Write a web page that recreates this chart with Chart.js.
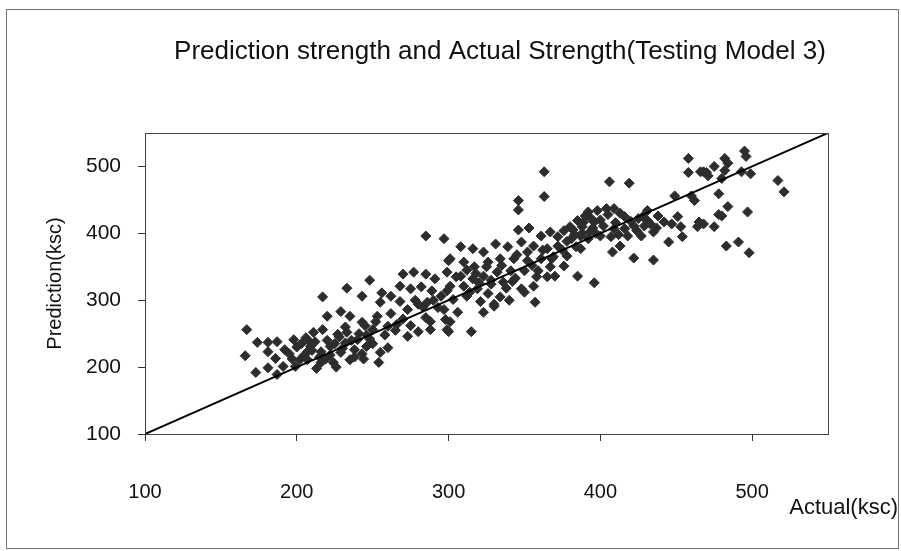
<!DOCTYPE html>
<html>
<head>
<meta charset="utf-8">
<script src="https://cdn.jsdelivr.net/npm/chart.js"></script>
<style>
  body { margin: 0; background: #fff; }
  #wrap { width: 901px; height: 551px; }
</style>
</head>
<body>
<div id="wrap"><canvas id="myChart"></canvas></div>
<script>
// values (ksc)
var actualStrength = [
  167,174,166,173,181,187,181,186,181,187,192,198,202,199,191,207,207,
  206,209,211,216,217,220,222,227,229,229,233,235,235,224,216,207,240,243,246,250,253,255,254,260,260,266,273,280,288,285,298,299,293,286,280,273,268,255,256,262,243,217,233,248,270,277,285,291,268,275,282,289,299,300,285,297,
  195,200,205,210,212,215,220,222,225,228,230,232,236,238,241,243,245,248,250,252,258,262,265,270,275,278,283,288,290,213,219,226,238,244,232,197,203,246,
  363,363,346,346,346,353,361,367,376,385,390,308,316,323,331,339,348,356,365,372,381,387,393,301,310,317,326,334,343,352,361,369,378,387,299,308,316,323,332,341,350,359,367,376,385,370,365,301,310,319,328,336,348,356,295,303,312,321,330,350,297,306,323,330,357,301,315,300,
  305,312,318,325,328,335,338,342,345,352,355,358,362,368,372,375,378,382,384,388,314,320,326,334,340,344,
  458,458,466,470,475,482,482,480,406,419,449,460,462,478,484,478,465,464,475,483,453,454,445,451,431,422,408,422,435,396,413,418,427,435,442,438,431,425,416,409,404,398,392,389,396,402,409,416,400,407,392,429,447,
  484,495,496,493,499,517,521,497,480,468,491,498,468,471,
  395,400,405,410,413,420,424,428,433,437,412,397,388,383,380,394
];
var predictedStrength = [
  256,237,217,192,237,238,223,213,199,189,226,241,211,201,201,241,223,
  244,231,252,223,256,276,231,249,283,222,252,276,211,207,207,211,241,267,231,256,276,222,207,229,261,264,246,253,256,274,271,256,289,297,294,286,298,297,311,306,306,305,318,330,339,342,339,332,321,317,320,314,314,359,396,392,
  220,230,218,225,238,215,240,218,235,245,228,260,240,226,250,220,262,242,235,268,248,280,255,272,262,300,290,268,300,198,212,200,215,212,236,212,235,248,
  492,455,449,435,405,408,396,402,404,419,426,380,377,372,384,380,387,381,377,381,392,396,402,362,357,350,357,362,362,359,362,365,366,377,342,336,332,336,342,344,344,344,350,351,336,336,335,321,321,317,324,327,317,321,306,301,306,298,294,312,286,282,282,291,297,268,253,253,
  335,345,340,350,330,352,318,328,368,372,352,335,375,362,395,375,388,405,380,410,312,326,310,305,300,333,
  512,491,492,491,500,512,494,482,477,475,456,456,449,459,440,428,417,410,410,381,410,395,387,425,434,411,372,363,360,326,381,396,396,402,417,426,419,422,425,437,437,434,432,417,417,411,407,407,396,395,392,411,414,
  505,523,515,492,489,479,462,432,426,414,387,371,492,486,
  408,420,428,416,430,418,404,425,414,408,398,400,400,398,410,422
];
var xTicks = [100, 200, 300, 400, 500];
var yTicks = [100, 200, 300, 400, 500];
var perfectLine = [100, 550];

var chartTitle = 'Prediction strength and Actual Strength(Testing Model 3)';
var xTitle = 'Actual(ksc)';
var yTitle = 'Prediction(ksc)';

var points = actualStrength.map(function (a, i) { return { x: a, y: predictedStrength[i] }; });
var linePoints = perfectLine.map(function (v) { return { x: v, y: v }; });

var fontFamily = '"Liberation Sans", Arial, sans-serif';

// frame, plot border and the texts Excel put in odd places
var decor = {
  id: 'decor',
  beforeDraw: function (chart) {
    var ctx = chart.ctx;
    ctx.save();
    ctx.fillStyle = '#fff';
    ctx.fillRect(0, 0, chart.width, chart.height);
    ctx.restore();
  },
  afterDraw: function (chart) {
    var ctx = chart.ctx, a = chart.chartArea;
    ctx.save();
    ctx.strokeStyle = '#444';
    ctx.lineWidth = 1;
    ctx.strokeRect(a.left + 0.5, a.top + 0.5, a.right - a.left, a.bottom - a.top);
    ctx.strokeStyle = '#777';
    ctx.strokeRect(6.5, 9.5, 892, 539);
    ctx.fillStyle = '#111';
    ctx.textBaseline = 'middle';
    ctx.textAlign = 'center';
    ctx.font = '26px ' + fontFamily;
    ctx.fillText(chartTitle, 500, 52);
    ctx.textAlign = 'right';
    ctx.font = '22px ' + fontFamily;
    ctx.fillText(xTitle, 898, 508);
    ctx.restore();
  }
};

var ctx = document.getElementById('myChart').getContext('2d');
var chart = new Chart(ctx, {
    type: 'scatter',
    data: {
        datasets: [{
            type: 'line',
            data: linePoints,
            borderColor: '#000',
            borderWidth: 2,
            pointRadius: 0,
            order: 0
        },
        {
            data: points,
            pointStyle: 'rectRot',
            pointRadius: 5,
            backgroundColor: '#2d2d2d',
            borderColor: '#2d2d2d',
            borderWidth: 1,
            order: 1
        }]
    },
    options: {
        responsive: true,
        maintainAspectRatio: false,
        animation: false,
        events: [],
        layout: { padding: { left: 10, right: 73, top: 133, bottom: 8 } },
        plugins: {
            legend: { display: false },
            tooltip: { enabled: false }
        },
        scales: {
            x: {
                type: 'linear',
                min: 100,
                max: 550,
                afterBuildTicks: function (s) { s.ticks = xTicks.map(function (v) { return { value: v }; }); },
                ticks: { includeBounds: false, padding: 39, color: '#111', font: { family: fontFamily, size: 20 } },
                grid: { drawOnChartArea: false, drawTicks: true, tickLength: 7, color: '#333' },
                border: { display: true, color: '#333' }
            },
            y: {
                type: 'linear',
                min: 100,
                max: 550,
                afterBuildTicks: function (s) { s.ticks = yTicks.map(function (v) { return { value: v }; }); },
                ticks: { includeBounds: false, padding: 17, color: '#111', font: { family: fontFamily, size: 21 } },
                grid: { drawOnChartArea: false, drawTicks: true, tickLength: 7, color: '#333' },
                border: { display: true, color: '#333' },
                title: { display: true, text: yTitle, color: '#111', padding: { top: 33, bottom: 2 }, font: { family: fontFamily, size: 20 } }
            }
        }
    },
    plugins: [decor]
});
</script>
</body>
</html>
